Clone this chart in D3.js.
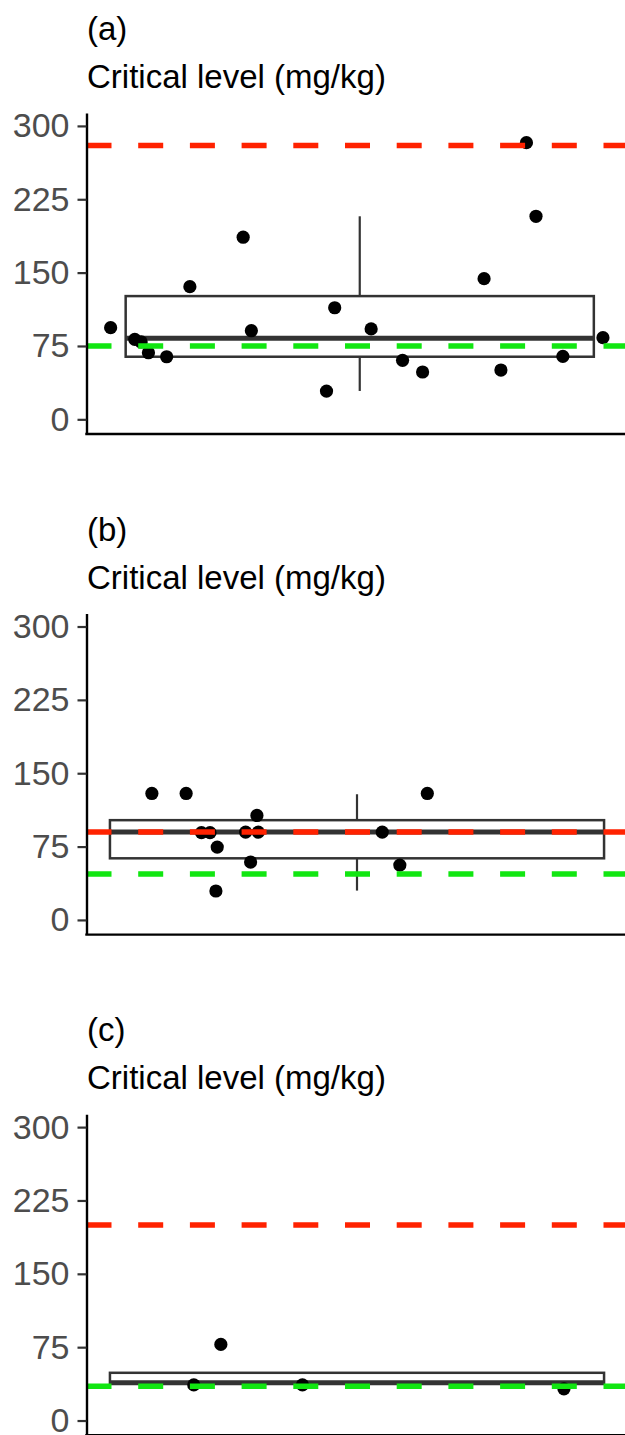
<!DOCTYPE html>
<html>
<head>
<meta charset="utf-8">
<script src="https://cdn.jsdelivr.net/npm/d3@7"></script>
<style>
  body { margin: 0; background: #fff; }
  svg { display: block; }
</style>
</head>
<body>
<svg></svg>
<script>
const width = 625;
const height = 1435;

// one entry per panel
const panelLabels = ['(a)', '(b)', '(c)'];
const yTitle = 'Critical level (mg/kg)';
const yTicks = [0, 75, 150, 225, 300];
const redLevels = [280, 90, 200];
const greenLevels = [75, 47, 35];

// box stats
const boxLower = [64, 63, 37.8];
const boxMedian = [83, 90, 38.6];
const boxUpper = [126, 102, 48.8];
const whiskerLow = [29, 30, 33];
const whiskerHigh = [207.6, 128.5, 48.8];
const boxHalfWidth = [0.514, 0.548, 0.548];

// jittered points: x in category units (category sits at 1), y in mg/kg
const pointsAx = [0.453, 0.506, 0.520, 0.536, 0.576, 0.627, 0.744, 0.762, 0.927, 0.945, 1.025, 1.094, 1.138, 1.273, 1.310, 1.366, 1.387, 1.446, 1.534];
const pointsAy = [93.7, 81.8, 79.1, 68.1, 64.0, 135.6, 186.2, 90.6, 28.9, 114.1, 92.4, 60.3, 48.4, 143.8, 50.4, 282.9, 207.6, 64.4, 83.5];
const pointsBx = [0.545, 0.621, 0.655, 0.674, 0.690, 0.687, 0.753, 0.764, 0.778, 0.781, 1.056, 1.095, 1.156];
const pointsBy = [129.3, 129.3, 89.2, 89.2, 74.5, 29.6, 89.8, 59.2, 106.8, 89.8, 89.8, 56.1, 129.3];
const pointsCx = [0.698, 0.638, 0.879, 1.459];
const pointsCy = [77.8, 36.4, 36.4, 32.4];
const pointsX = [pointsAx, pointsBx, pointsCx];
const pointsY = [pointsAy, pointsBy, pointsCy];

const svg = d3.select('svg').attr('width', width).attr('height', height);

const panelLeft = 86.5;
const panelRights = [633, 627.5, 627.5];
const panelH = 321;
const panelStep = 500.6;
const firstTop = 113;
const font = '"Liberation Sans", Arial, Helvetica, sans-serif';

panelLabels.forEach((label, i) => {
  const top = firstTop + i * panelStep;
  const g = svg.append('g').attr('transform', 'translate(0,' + top + ')');

  const x = d3.scaleLinear().domain([0.4, 1.6]).range([panelLeft, panelRights[i]]);
  const y = d3.scaleLinear().domain([-15, 313.2]).range([panelH, 0]);

  g.append('text').attr('x', 87).attr('y', -73)
    .style('font-family', font).style('font-size', '33px').attr('fill', '#000')
    .text(label);
  g.append('text').attr('x', 87).attr('y', -25)
    .style('font-family', font).style('font-size', '33px').attr('fill', '#000')
    .text(yTitle);

  // box + whiskers
  const bx = g.append('g').attr('stroke', '#333').attr('fill', 'none');
  bx.append('line')
    .attr('x1', x(1)).attr('x2', x(1))
    .attr('y1', y(boxUpper[i])).attr('y2', y(whiskerHigh[i]))
    .attr('stroke-width', 2.2);
  bx.append('line')
    .attr('x1', x(1)).attr('x2', x(1))
    .attr('y1', y(boxLower[i])).attr('y2', y(whiskerLow[i]))
    .attr('stroke-width', 2.2);
  bx.append('rect')
    .attr('x', x(1 - boxHalfWidth[i]))
    .attr('width', x(1 + boxHalfWidth[i]) - x(1 - boxHalfWidth[i]))
    .attr('y', y(boxUpper[i]))
    .attr('height', y(boxLower[i]) - y(boxUpper[i]))
    .attr('fill', '#fff')
    .attr('stroke-width', 2.5);
  bx.append('line')
    .attr('x1', x(1 - boxHalfWidth[i])).attr('x2', x(1 + boxHalfWidth[i]))
    .attr('y1', y(boxMedian[i])).attr('y2', y(boxMedian[i]))
    .attr('stroke-width', 5);

  // points
  g.append('g').selectAll('circle')
    .data(d3.range(pointsX[i].length))
    .join('circle')
    .attr('cx', j => x(pointsX[i][j]))
    .attr('cy', j => y(pointsY[i][j]))
    .attr('r', 6.6)
    .attr('fill', '#000');

  // reference levels
  [[redLevels[i], '#ff2200'], [greenLevels[i], '#11e611']].forEach(([v, c]) => {
    g.append('line')
      .attr('x1', panelLeft).attr('x2', width + 10)
      .attr('y1', y(v)).attr('y2', y(v))
      .attr('stroke', c).attr('stroke-width', 5.5)
      .attr('stroke-dasharray', '25 26.7');
  });

  // axes
  const yAxis = g.append('g').attr('transform', 'translate(' + panelLeft + ',0)')
    .call(d3.axisLeft(y).tickValues(yTicks).tickSize(9).tickSizeOuter(0).tickPadding(8));
  yAxis.select('.domain').attr('stroke', '#000').attr('stroke-width', 2.4);
  yAxis.selectAll('.tick line').attr('stroke', '#333').attr('stroke-width', 2.2);
  yAxis.selectAll('.tick text')
    .style('font-family', font).style('font-size', '34px').attr('fill', '#4d4d4d');

  g.append('line')
    .attr('x1', panelLeft - 1.2).attr('x2', width + 10)
    .attr('y1', panelH).attr('y2', panelH)
    .attr('stroke', '#000').attr('stroke-width', 2.4);
});
</script>
</body>
</html>
